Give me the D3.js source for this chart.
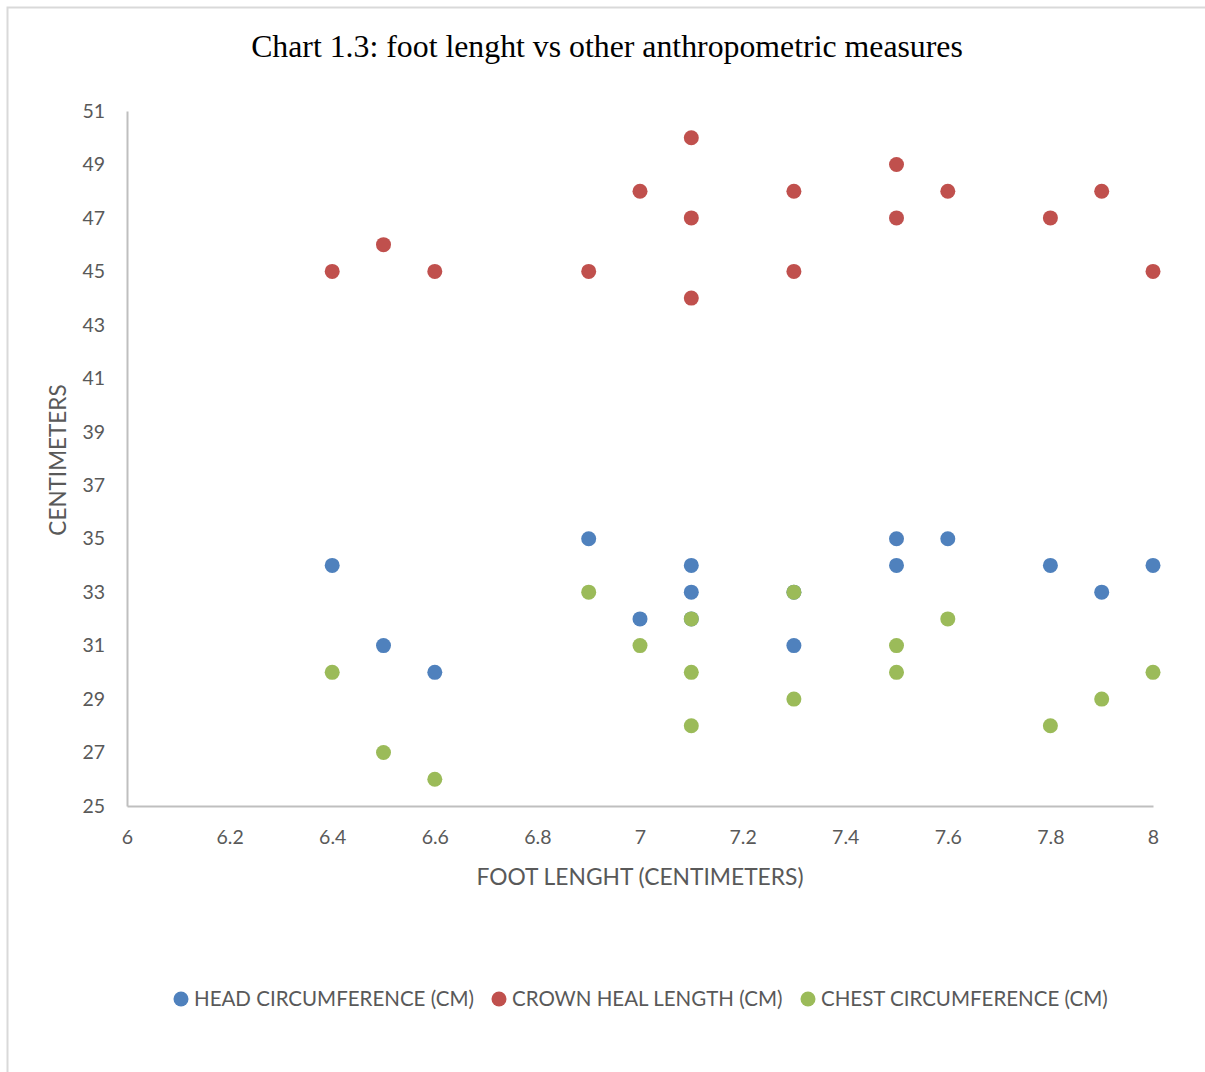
<!DOCTYPE html>
<html>
<head>
<meta charset="utf-8">
<script src="https://cdn.jsdelivr.net/npm/d3@7"></script>
<style>
  html, body { margin: 0; padding: 0; background: #fff; }
  svg { display: block; }
</style>
</head>
<body>
<svg id="chart" width="1205" height="1072"></svg>
<script>
// Foot length (cm) per observation, and the three measures taken on each.
const footLength = [6.4, 6.5, 6.6, 6.9, 7.0, 7.1, 7.1, 7.1, 7.3, 7.3, 7.5, 7.5, 7.6, 7.8, 7.9, 8.0];
const headCircumference = [34, 31, 30, 35, 32, 34, 33, 32, 33, 31, 35, 34, 35, 34, 33, 34];
const crownHealLength = [45, 46, 45, 45, 48, 50, 47, 44, 48, 45, 49, 47, 48, 47, 48, 45];
const chestCircumference = [30, 27, 26, 33, 31, 32, 30, 28, 33, 29, 31, 30, 32, 28, 29, 30];

const seriesNames = ["HEAD CIRCUMFERENCE (CM)", "CROWN HEAL LENGTH (CM)", "CHEST CIRCUMFERENCE (CM)"];
const seriesColors = ["#4f81bd", "#c0504d", "#9bbb59"];
const xTicks = [6, 6.2, 6.4, 6.6, 6.8, 7, 7.2, 7.4, 7.6, 7.8, 8];
const yTicks = [25, 27, 29, 31, 33, 35, 37, 39, 41, 43, 45, 47, 49, 51];

const series = [headCircumference, crownHealLength, chestCircumference].map((vals, i) => ({
  name: seriesNames[i],
  color: seriesColors[i],
  points: vals.map((v, j) => ({ x: footLength[j], y: v }))
}));

const svg = d3.select("#chart");
const font = "Lato, 'Open Sans', sans-serif";
const textColor = "#595959";

// Outer chart frame
svg.append("rect")
  .attr("x", 7.5).attr("y", 7.5)
  .attr("width", 1300).attr("height", 1200)
  .attr("fill", "#fff")
  .attr("stroke", "#d9d9d9").attr("stroke-width", 2);

const x = d3.scaleLinear().domain([6, 8]).range([127, 1153]);
const y = d3.scaleLinear().domain([25, 51]).range([806, 111]);

// Title
svg.append("text")
  .attr("x", 607).attr("y", 57)
  .attr("text-anchor", "middle")
  .attr("font-family", "'Liberation Serif', 'Times New Roman', serif")
  .attr("font-size", 31.8)
  .attr("fill", "#000")
  .text("Chart 1.3: foot lenght vs other anthropometric measures");

// Axes
const xAxis = d3.axisBottom(x).tickValues(xTicks).tickSize(0).tickPadding(24)
  .tickFormat(d => d3.format("~g")(d));
const yAxis = d3.axisLeft(y).tickValues(yTicks).tickSize(0).tickPadding(22);

const gx = svg.append("g").attr("transform", `translate(0,${y(25)})`).call(xAxis);
const gy = svg.append("g").attr("transform", `translate(${x(6)},0)`).call(yAxis);

[gx, gy].forEach(g => {
  g.select(".domain").attr("stroke", "#bfbfbf").attr("stroke-width", 2);
  g.selectAll(".tick text")
    .attr("font-family", font)
    .attr("font-size", 19.5)
    .attr("fill", textColor);
});

// Axis titles
svg.append("text")
  .attr("x", 640).attr("y", 885)
  .attr("text-anchor", "middle")
  .attr("font-family", font).attr("font-size", 22.8)
  .attr("fill", textColor)
  .text("FOOT LENGHT (CENTIMETERS)");

svg.append("text")
  .attr("transform", "translate(66,460) rotate(-90)")
  .attr("text-anchor", "middle")
  .attr("font-family", font).attr("font-size", 22.5)
  .attr("fill", textColor)
  .text("CENTIMETERS");

// Scatter points
series.forEach(s => {
  svg.append("g")
    .selectAll("circle")
    .data(s.points)
    .join("circle")
    .attr("cx", d => x(d.x))
    .attr("cy", d => y(d.y))
    .attr("r", 7.5)
    .attr("fill", s.color);
});

// Legend
const legendX = [181, 499, 808];
const legend = svg.append("g");
series.forEach((s, i) => {
  legend.append("circle")
    .attr("cx", legendX[i]).attr("cy", 999).attr("r", 7.5)
    .attr("fill", s.color);
  legend.append("text")
    .attr("x", legendX[i] + 13).attr("y", 1006)
    .attr("font-family", font).attr("font-size", 20.5)
    .attr("fill", textColor)
    .text(s.name);
});
</script>
</body>
</html>
